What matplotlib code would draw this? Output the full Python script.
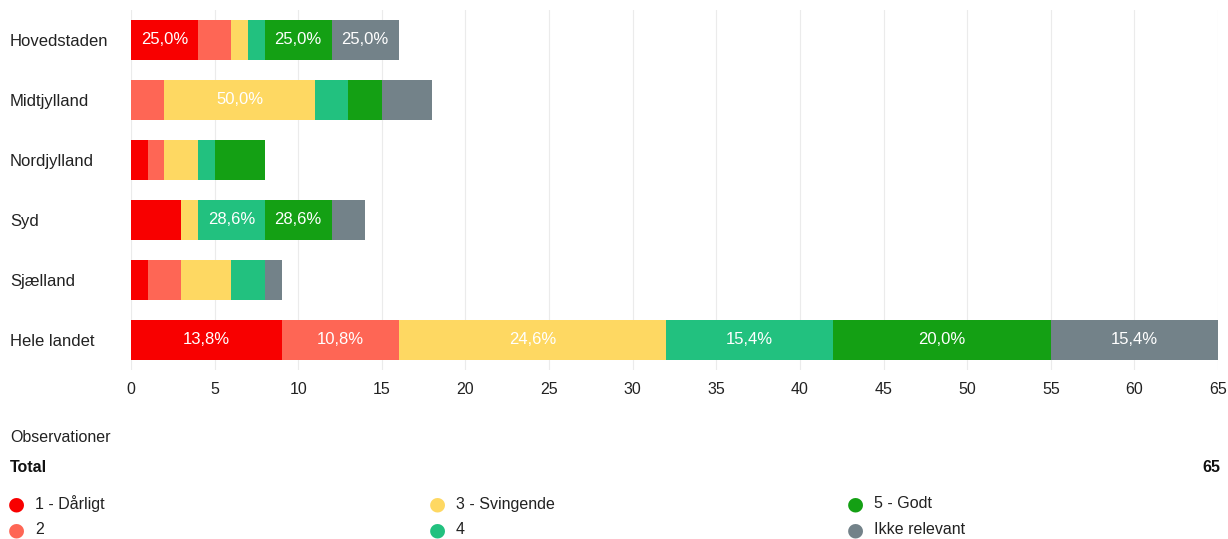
import matplotlib.pyplot as plt
import numpy as np

plt.rcParams['font.family'] = ['Liberation Sans', 'DejaVu Sans']

regions = ['Hovedstaden', 'Midtjylland', 'Nordjylland', 'Syd', 'Sjælland', 'Hele landet']
series = ['1 - Dårligt', '2', '3 - Svingende', '4', '5 - Godt', 'Ikke relevant']
colors = ['#f80000', '#fe6655', '#fed862', '#22c17f', '#14a014', '#738289']

s1 = [4, 0, 1, 3, 1, 9]
s2 = [2, 2, 1, 0, 2, 7]
s3 = [1, 9, 2, 1, 3, 16]
s4 = [1, 2, 1, 4, 2, 10]
s5 = [4, 2, 3, 4, 0, 13]
s6 = [4, 3, 0, 2, 1, 10]
total = 65

values = np.array([s1, s2, s3, s4, s5, s6], dtype=float)
row_sum = values.sum(axis=0)

fig = plt.figure(figsize=(12.28, 5.39), dpi=100)
ax = fig.add_axes([131 / 1228, 1 - 370 / 539, (1218 - 131) / 1228, 360 / 539])

y = np.arange(len(regions))
left = np.zeros(len(regions))
for k in range(len(series)):
    ax.barh(y, values[k], left=left, height=0.67, color=colors[k], zorder=3)
    for i in range(len(regions)):
        v = values[k][i]
        if v >= 4:
            pct = 100 * v / row_sum[i]
            txt = f'{pct:.1f}%'.replace('.', ',')
            ax.text(left[i] + v / 2, y[i], txt, ha='center', va='center',
                    color='white', fontsize=12, zorder=4)
    left += values[k]

ax.set_xlim(0, 65)
ax.set_ylim(len(regions) - 0.5, -0.5)
ax.set_xticks(np.arange(0, 66, 5))
ax.grid(axis='x', color='#ebebeb', linewidth=0.8, zorder=0)
ax.set_yticks(y)
ax.set_yticklabels(regions, fontsize=12)
for lab in ax.get_yticklabels():
    lab.set_horizontalalignment('left')
ax.tick_params(axis='both', length=0)
# pad in points: 121 px at 100 dpi
ax.tick_params(axis='y', pad=121 * 72 / 100, colors='#222222')
ax.tick_params(axis='x', labelsize=11.5, pad=9, colors='#222222')
for s in ax.spines.values():
    s.set_visible(False)

fig.text(10 / 1228, 1 - 437 / 539, 'Observationer', fontsize=11.5, va='center', color='#222222')
fig.text(10 / 1228, 1 - 467 / 539, 'Total', fontsize=11.5, va='center', fontweight='bold', color='#111111')
fig.text(1220 / 1228, 1 - 467 / 539, str(total), fontsize=11.5, va='center', ha='right',
         fontweight='bold', color='#111111')

col_x = [16, 437, 855]
row_y = [504, 530]
for k, name in enumerate(series):
    cx = col_x[k // 2]
    cy = row_y[k % 2]
    fig.text((cx - 8) / 1228, 1 - cy / 539, '\u25cf', color=colors[k], fontsize=14,
             va='center', ha='left', family='DejaVu Sans')
    fig.text((cx + 19) / 1228, 1 - cy / 539, name, fontsize=11.5, va='center', color='#222222')

fig.savefig('out.png', dpi=100, facecolor='white')
